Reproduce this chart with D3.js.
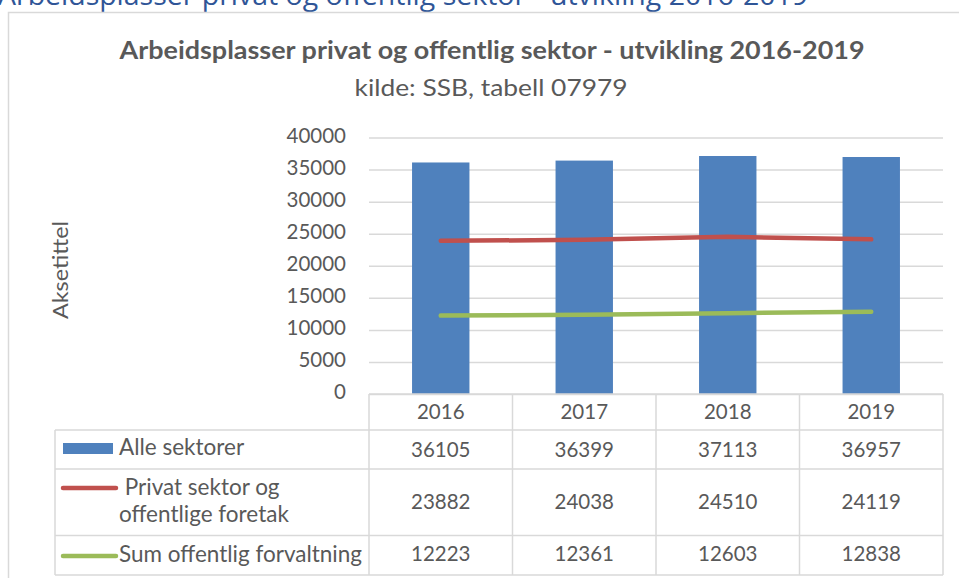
<!DOCTYPE html>
<html>
<head>
<meta charset="utf-8">
<script src="https://cdn.jsdelivr.net/npm/d3@7"></script>
<style>
  body { margin: 0; background: #fff; }
  svg { display: block; }
</style>
</head>
<body>
<div id="chart"></div>
<script>
const years = ["2016", "2017", "2018", "2019"];
const alleSektorer = [36105, 36399, 37113, 36957];
const privatSektor = [23882, 24038, 24510, 24119];
const offentligForvaltning = [12223, 12361, 12603, 12838];
const seriesNames = [["Alle sektorer"], [" Privat sektor og", "offentlige foretak"], ["Sum offentlig forvaltning"]];
const seriesColors = ["#4f81bd", "#c0504d", "#9bbb59"];

const width = 959, height = 578;
const plotLeft = 369, plotRight = 943, plotTop = 137.5, plotBottom = 394;
const tableLeft = 55;
const rowEdges = [394, 430, 469, 535.5, 575]; // header, row1, row2, row3 bottom
const font = "Lato, 'Open Sans', sans-serif";
const textColor = "#595959";
const gridColor = "#d9d9d9";

const svg = d3.select("#chart").append("svg")
    .attr("width", width)
    .attr("height", height)
    .attr("font-family", font);

// page heading, cut at the top of the screenshot
svg.append("text")
    .attr("x", -2).attr("y", 5)
    .attr("font-family", "'Open Sans', sans-serif")
    .attr("font-size", 28)
    .attr("textLength", 810)
    .attr("lengthAdjust", "spacingAndGlyphs")
    .attr("fill", "#2f5597")
    .text("Arbeidsplasser privat og offentlig sektor - utvikling 2016-2019");

// chart frame
svg.append("rect")
    .attr("x", 8.5).attr("y", 12.5)
    .attr("width", 1000).attr("height", 700)
    .attr("fill", "#fff")
    .attr("stroke", gridColor)
    .attr("stroke-width", 1.5);

svg.append("text")
    .attr("x", 492).attr("y", 59)
    .attr("text-anchor", "middle")
    .attr("font-weight", "bold")
    .attr("font-size", 25)
    .attr("textLength", 745)
    .attr("lengthAdjust", "spacingAndGlyphs")
    .attr("fill", textColor)
    .text("Arbeidsplasser privat og offentlig sektor - utvikling 2016-2019");

svg.append("text")
    .attr("x", 491).attr("y", 96)
    .attr("text-anchor", "middle")
    .attr("font-size", 24)
    .attr("textLength", 273)
    .attr("lengthAdjust", "spacingAndGlyphs")
    .attr("fill", textColor)
    .text("kilde: SSB, tabell 07979");

const x = d3.scaleBand().domain(years).range([plotLeft, plotRight]).paddingInner(0.6).paddingOuter(0.3);
const xCol = d3.scaleBand().domain(years).range([plotLeft, plotRight]);
const y = d3.scaleLinear().domain([0, 40000]).range([plotBottom, plotTop]);

// gridlines
svg.append("g")
    .attr("transform", `translate(${plotLeft},0)`)
    .call(d3.axisLeft(y).ticks(8).tickSize(-(plotRight - plotLeft)).tickFormat(""))
    .call(g => g.select(".domain").remove())
    .call(g => g.selectAll("line").attr("stroke", gridColor).attr("stroke-width", 1.5));

// y tick labels
svg.append("g")
    .attr("transform", `translate(${plotLeft},-2)`)
    .call(d3.axisLeft(y).ticks(8).tickSize(0).tickPadding(23).tickFormat(d3.format("d")))
    .call(g => g.select(".domain").remove())
    .call(g => g.selectAll("text")
        .attr("font-family", font)
        .attr("font-size", 20.5)
        .attr("fill", textColor));

svg.append("text")
    .attr("transform", "translate(68,270) rotate(-90)")
    .attr("text-anchor", "middle")
    .attr("font-size", 21)
    .attr("textLength", 98)
    .attr("lengthAdjust", "spacingAndGlyphs")
    .attr("fill", textColor)
    .text("Aksetittel");

// bars
svg.append("g")
    .selectAll("rect")
    .data(alleSektorer)
    .join("rect")
    .attr("x", (d, i) => x(years[i]))
    .attr("y", d => y(d))
    .attr("width", x.bandwidth())
    .attr("height", d => y(0) - y(d))
    .attr("fill", seriesColors[0]);

// lines
const line = d3.line()
    .x((d, i) => xCol(years[i]) + xCol.bandwidth() / 2)
    .y(d => y(d));

[privatSektor, offentligForvaltning].forEach((vals, k) => {
    svg.append("path")
        .datum(vals)
        .attr("d", line)
        .attr("fill", "none")
        .attr("stroke", seriesColors[k + 1])
        .attr("stroke-width", 4.5)
        .attr("stroke-linecap", "round")
        .attr("stroke-linejoin", "round");
});

// data table
const table = svg.append("g")
    .attr("stroke", gridColor)
    .attr("stroke-width", 1.5)
    .attr("fill", "none");

table.append("line")
    .attr("x1", plotLeft).attr("x2", plotRight)
    .attr("y1", rowEdges[0]).attr("y2", rowEdges[0]);
rowEdges.slice(1).forEach(ry => {
    table.append("line")
        .attr("x1", tableLeft).attr("x2", plotRight)
        .attr("y1", ry).attr("y2", ry);
});
table.append("line")
    .attr("x1", tableLeft).attr("x2", tableLeft)
    .attr("y1", rowEdges[1]).attr("y2", rowEdges[4]);
[...years.map(yr => xCol(yr)), plotRight].forEach(cx => {
    table.append("line")
        .attr("x1", cx).attr("x2", cx)
        .attr("y1", rowEdges[0]).attr("y2", rowEdges[4]);
});

const cellText = (tx, ty, s, anchor, size) => svg.append("text")
    .attr("x", tx).attr("y", ty)
    .attr("text-anchor", anchor || "middle")
    .attr("font-size", size || 20.5)
    .attr("fill", textColor)
    .text(s);

const colCenter = yr => xCol(yr) + xCol.bandwidth() / 2;
years.forEach(yr => cellText(colCenter(yr), 419, yr));

const rowBaselines = [457, 509, 561];
[alleSektorer, privatSektor, offentligForvaltning].forEach((vals, r) => {
    vals.forEach((v, i) => cellText(colCenter(years[i]), rowBaselines[r], String(v)));
});

// legend keys
svg.append("rect")
    .attr("x", 63).attr("y", 443)
    .attr("width", 50).attr("height", 11)
    .attr("fill", seriesColors[0]);
svg.append("line")
    .attr("x1", 63).attr("x2", 116)
    .attr("y1", 488).attr("y2", 488)
    .attr("stroke", seriesColors[1]).attr("stroke-width", 4.5).attr("stroke-linecap", "round");
svg.append("line")
    .attr("x1", 63).attr("x2", 116)
    .attr("y1", 556).attr("y2", 556)
    .attr("stroke", seriesColors[2]).attr("stroke-width", 4.5).attr("stroke-linecap", "round");

const labelLines = [[455], [495, 522], [562]];
seriesNames.forEach((lines, r) => {
    lines.forEach((s, j) => {
        cellText(119, labelLines[r][j], s, "start", 22.5).style("white-space", "pre");
    });
});
</script>
</body>
</html>
